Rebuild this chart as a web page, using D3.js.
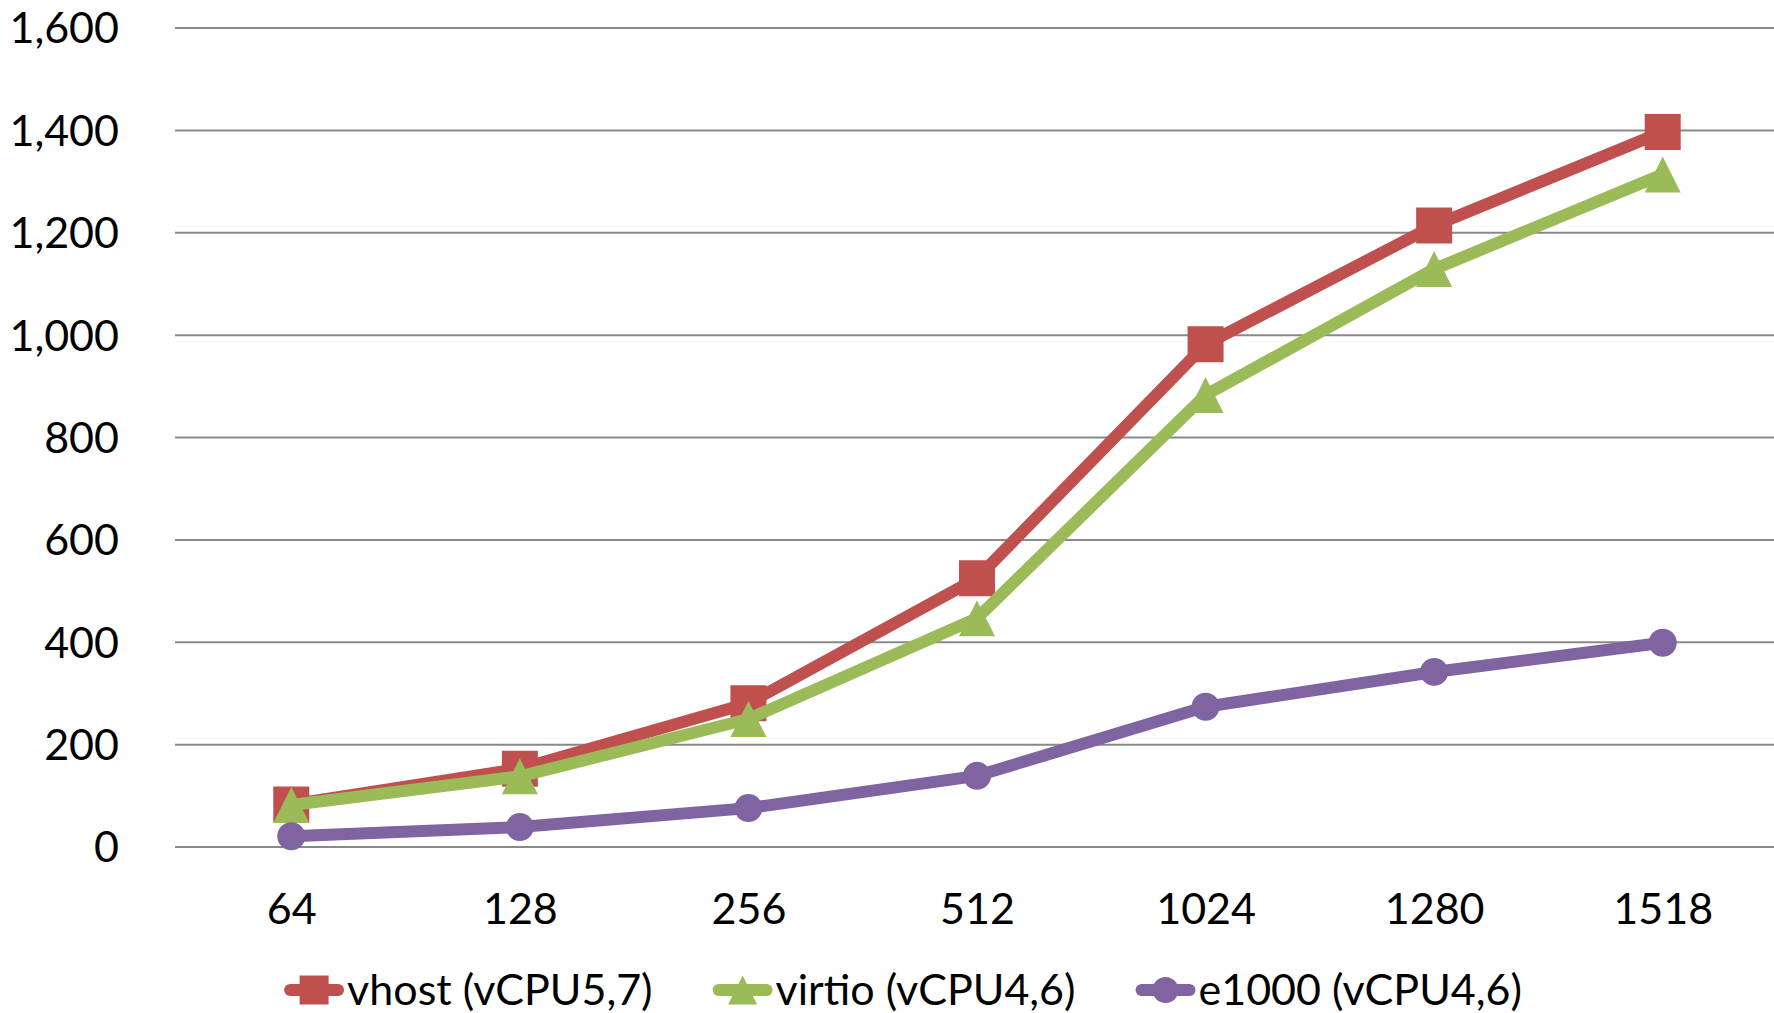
<!DOCTYPE html>
<html>
<head>
<meta charset="utf-8">
<script src="https://cdn.jsdelivr.net/npm/d3@7"></script>
<style>
  body { margin: 0; background: #fff; }
  text { font-family: Lato, "Open Sans", sans-serif; fill: #000; }
</style>
</head>
<body>
<svg id="chart" width="1774" height="1013"></svg>
<script>
// Packet sizes (bytes) on the category axis
const packetSizes = ["64", "128", "256", "512", "1024", "1280", "1518"];

// Throughput per packet size for each NIC type
const vhostValues  = [82, 152, 280, 524, 981, 1213, 1396];
const virtioValues = [81, 137, 249, 446, 882, 1128, 1313];
const e1000Values  = [20, 38, 75, 138, 273, 341, 398];

// Value axis ticks
const yTicks = [0, 200, 400, 600, 800, 1000, 1200, 1400, 1600];

// Legend entries, colours and marker shapes
const seriesNames  = ["vhost (vCPU5,7)", "virtio (vCPU4,6)", "e1000 (vCPU4,6)"];
const seriesColors = ["#C0504D", "#9BBB59", "#8064A2"];
const markerShapes = ["square", "triangle", "circle"];

const series = [vhostValues, virtioValues, e1000Values].map((vals, i) => ({
  name: seriesNames[i],
  color: seriesColors[i],
  shape: markerShapes[i],
  values: vals.map((v, j) => ({ cat: packetSizes[j], v }))
}));

const plotLeft = 175, plotRight = 1774, plotTop = 27.5, plotBottom = 846.5;

const svg = d3.select("#chart");

const x = d3.scalePoint().domain(packetSizes).range([177, 1777]).padding(0.5);
const y = d3.scaleLinear().domain([0, 1600]).range([plotBottom, plotTop]);

// Marker path for a given shape and size (bounding box centred on 0,0)
function markerPath(shape, s) {
  const h = s / 2;
  if (shape === "square") return `M${-h},${-h}H${h}V${h}H${-h}Z`;
  if (shape === "triangle") return `M0,${-h}L${h},${h}H${-h}Z`;
  const p = d3.path();
  p.arc(0, 0, h, 0, 2 * Math.PI);
  return p.toString();
}

// Horizontal gridlines with value labels
const yAxis = d3.axisLeft(y)
  .tickValues(yTicks)
  .tickSize(-(plotRight - plotLeft))
  .tickPadding(56)
  .tickFormat(d3.format(","));

const gy = svg.append("g")
  .attr("transform", `translate(${plotLeft},0)`)
  .call(yAxis);
gy.select(".domain").remove();
gy.selectAll(".tick line").attr("stroke", "#898989").attr("stroke-width", 2);
gy.selectAll(".tick text")
  .attr("dy", "0.36em")
  .style("font-size", "43px")
  .style("font-family", "Lato, 'Open Sans', sans-serif")
  .attr("fill", "#000");

// Category labels
const xAxis = d3.axisBottom(x).tickSize(0);
const gx = svg.append("g")
  .attr("transform", `translate(0,${plotBottom})`)
  .call(xAxis);
gx.select(".domain").remove();
gx.selectAll(".tick text")
  .attr("y", 77)
  .attr("dy", 0)
  .style("font-size", "43px")
  .style("font-family", "Lato, 'Open Sans', sans-serif")
  .attr("fill", "#000");

// Series lines and markers, drawn in order so later series sit on top
const line = d3.line().x(d => x(d.cat)).y(d => y(d.v));
const markerSize = { square: 36, triangle: 36, circle: 28 };

series.forEach(s => {
  const g = svg.append("g");
  g.append("path")
    .datum(s.values)
    .attr("d", line)
    .attr("fill", "none")
    .attr("stroke", s.color)
    .attr("stroke-width", 12)
    .attr("stroke-linejoin", "round");
  g.selectAll("path.marker")
    .data(s.values)
    .join("path")
    .attr("class", "marker")
    .attr("transform", d => `translate(${x(d.cat)},${y(d.v)})`)
    .attr("d", markerPath(s.shape, markerSize[s.shape]))
    .attr("fill", s.color);
});

// Legend along the bottom
const legendY = 990;
const legend = svg.append("g");
const swatchLen = 60, textGap = 3, itemGap = 60;
let cursor = 0;
series.forEach(s => {
  const item = legend.append("g").attr("transform", `translate(${cursor},0)`);
  item.append("line")
    .attr("x1", 6).attr("x2", swatchLen - 6)
    .attr("y1", legendY).attr("y2", legendY)
    .attr("stroke", s.color)
    .attr("stroke-width", 12)
    .attr("stroke-linecap", "round");
  item.append("path")
    .attr("transform", `translate(${swatchLen / 2},${legendY})`)
    .attr("d", markerPath(s.shape, s.shape === "circle" ? 26 : 29))
    .attr("fill", s.color);
  const t = item.append("text")
    .attr("x", swatchLen + textGap)
    .attr("y", legendY)
    .attr("dy", "0.36em")
    .style("font-size", "43px")
    .text(s.name);
  cursor += swatchLen + textGap + t.node().getComputedTextLength() + itemGap;
});
const legendWidth = cursor - itemGap;
legend.attr("transform", `translate(${903 - legendWidth / 2},0)`);
</script>
</body>
</html>
